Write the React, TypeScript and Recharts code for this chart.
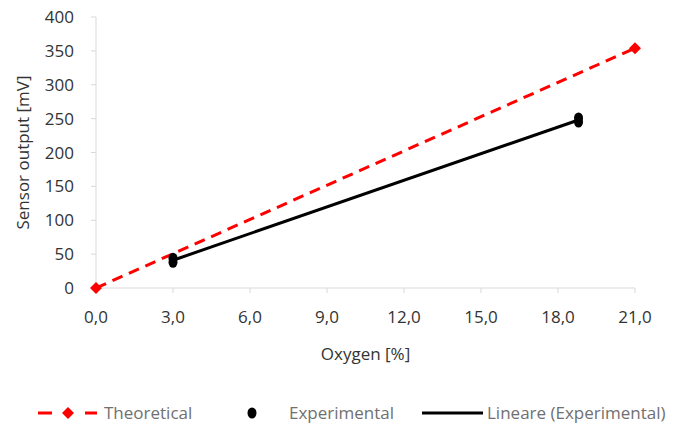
import { ComposedChart, Line, Scatter, XAxis, YAxis } from 'recharts'

const theoOxygen = [0, 21]
const theoOutput = [0, 354]
const expOxygen = [3.0, 3.0, 18.8, 18.8]
const expOutput = [44, 38, 251, 245]
const trendOxygen = [3.0, 18.8]
const trendOutput = [41, 248]
const xTicks = [0, 3, 6, 9, 12, 15, 18, 21]
const yTicks = [0, 50, 100, 150, 200, 250, 300, 350, 400]

const theoData = theoOxygen.map((x, i) => ({ x, y: theoOutput[i] }))
const expData = expOxygen.map((x, i) => ({ x, y: expOutput[i] }))
const trendData = trendOxygen.map((x, i) => ({ x, y: trendOutput[i] }))

const font = '"Open Sans", sans-serif'
const axisColor = '#d9d9d9'
const textColor = '#333333'

const Diamond = (props: any) => {
  const { cx, cy } = props
  if (cx == null || cy == null) return null
  const r = 6
  return (
    <polygon
      points={`${cx},${cy - r} ${cx + r},${cy} ${cx},${cy + r} ${cx - r},${cy}`}
      fill="#ff0000"
    />
  )
}

const YLabel = (props: any) => {
  const { viewBox } = props
  const cx = viewBox.x - 14
  const cy = viewBox.y + viewBox.height / 2
  return (
    <text
      x={cx}
      y={cy}
      transform={`rotate(-90, ${cx}, ${cy})`}
      textAnchor="middle"
      dominantBaseline="central"
      fill={textColor}
      fontSize={17}
      fontFamily={font}
    >
      Sensor output [mV]
    </text>
  )
}

const legendText = { position: 'absolute' as const, top: 0, fontSize: 17, color: '#707070', fontFamily: font, lineHeight: '24px', whiteSpace: 'nowrap' as const }

export default function App() {
  return (
    <div style={{ position: 'relative', width: 676, height: 440, margin: '-8px -8px 0 -8px' }}>
      <ComposedChart width={676} height={427} margin={{ top: 17, right: 41, left: 36, bottom: 59 }}>
        <XAxis
          type="number"
          dataKey="x"
          domain={[0, 21]}
          ticks={xTicks}
          tickFormatter={(v: number) => v.toFixed(1).replace('.', ',')}
          stroke={axisColor}
          tickSize={5}
          tickMargin={18}
          tick={{ fill: textColor, fontSize: 17, fontFamily: font }}
          height={80}
          allowDuplicatedCategory={false}
          label={{ value: 'Oxygen [%]', position: 'insideBottom', offset: 8, fill: textColor, fontSize: 17, fontFamily: font }}
        />
        <YAxis
          type="number"
          domain={[0, 400]}
          ticks={yTicks}
          stroke={axisColor}
          tickSize={5}
          tickMargin={17}
          tick={{ fill: textColor, fontSize: 17, fontFamily: font }}
          width={60}
          label={<YLabel />}
        />
        <Line
          data={trendData}
          dataKey="y"
          type="linear"
          stroke="#000000"
          strokeWidth={3}
          dot={false}
          isAnimationActive={false}
        />
        <Line
          data={theoData}
          dataKey="y"
          type="linear"
          stroke="#ff0000"
          strokeWidth={3}
          strokeDasharray="11 7"
          dot={<Diamond />}
          isAnimationActive={false}
        />
        <Scatter data={expData} dataKey="y" fill="#000000" shape={(p: any) => <ellipse cx={p.cx} cy={p.cy} rx={4.5} ry={5.5} fill="#000" />} isAnimationActive={false} />
      </ComposedChart>
      <div style={{ position: 'absolute', left: 0, top: 401, width: 676, height: 24 }}>
        <svg style={{ position: 'absolute', left: 36, top: 0 }} width={64} height={24}>
          <line x1={2} y1={12} x2={61} y2={12} stroke="#ff0000" strokeWidth={3} strokeDasharray="14 33" />
          <polygon points="32,6 38,12 32,18 26,12" fill="#ff0000" />
        </svg>
        <span style={{ ...legendText, left: 104 }}>Theoretical</span>
        <svg style={{ position: 'absolute', left: 246, top: 0 }} width={12} height={24}>
          <ellipse cx={6} cy={12} rx={4.5} ry={5.5} fill="#000" />
        </svg>
        <span style={{ ...legendText, left: 289 }}>Experimental</span>
        <svg style={{ position: 'absolute', left: 421, top: 0 }} width={64} height={24}>
          <line x1={1} y1={12} x2={62} y2={12} stroke="#000" strokeWidth={3} />
        </svg>
        <span style={{ ...legendText, left: 487 }}>Lineare (Experimental)</span>
      </div>
    </div>
  )
}
